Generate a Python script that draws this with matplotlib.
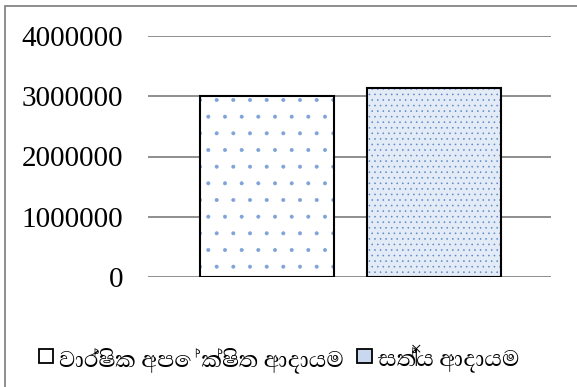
import matplotlib
matplotlib.use('Agg')
import matplotlib.pyplot as plt
from matplotlib.patches import Patch, Rectangle

series = ['වාර්ෂික අපේක්ෂිත ආදායම', 'සත්‍ය ආදායම']
values = [3000000, 3135000]
yticks = [0, 1000000, 2000000, 3000000, 4000000]
ytick_labels = ['0', '1000000', '2000000', '3000000', '4000000']

plt.rcParams['hatch.linewidth'] = 0.4

fig = plt.figure(figsize=(5.77, 3.87), dpi=100)
ax = fig.add_axes([148/577, 1-277/387, (551-148)/577, (277-36)/387])

grid_c = '#868686'
face = ['white', '#e3ebf7']
hatch_c = ['#7ea2d8', '#5b86c8']
hatch = ['.', '...']
width = 1.0
gap = 0.25
xpos = [i * (width + gap) for i in range(len(values))]
for x, v, fc, hc, h in zip(xpos, values, face, hatch_c, hatch):
    ax.bar(x, v, width=width, color=fc, edgecolor=hc, hatch=h, linewidth=0, zorder=2)
    ax.bar(x, v, width=width, color='none', edgecolor='black', linewidth=1.5, zorder=3)

ax.set_ylim(0, 4000000)
ax.set_xlim(xpos[0] - width/2 - 52/134, xpos[-1] + width/2 + 50/134)
ax.set_yticks(yticks)
ax.set_yticklabels(ytick_labels, family='Liberation Serif', fontsize=21)
ax.tick_params(axis='y', length=0, pad=18)
ax.set_xticks([])
for s in ax.spines.values():
    s.set_visible(False)
ax.yaxis.grid(True, color=grid_c, linewidth=1.3)
ax.set_axisbelow(True)

fig.patches.append(Rectangle((4.5/577, -0.2), 1.5, 1.2 - 5.5/387, transform=fig.transFigure,
                             fill=False, edgecolor=grid_c, linewidth=1.3))

handles = [Patch(facecolor='white', edgecolor='black', linewidth=1.3),
           Patch(facecolor='#c9d8ef', edgecolor='black', linewidth=1.3)]
fam = ['Abhaya Libre', 'FreeSerif', 'DejaVu Sans']
fig.legend(handles, series, loc='center', bbox_to_anchor=(279/577, 1-359/387), ncol=2,
           frameon=False, prop={'family': fam, 'size': 21}, handlelength=0.5, handleheight=0.34,
           handletextpad=0.2, columnspacing=0.45)

fig.savefig('out.png', dpi=100)
